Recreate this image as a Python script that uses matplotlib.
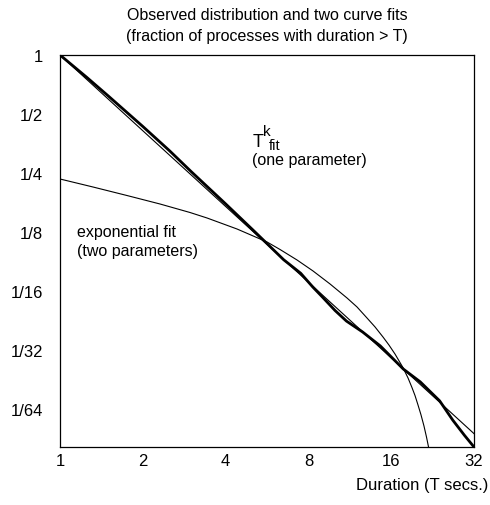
import matplotlib
matplotlib.use('Agg')
import matplotlib.pyplot as plt
from matplotlib.ticker import FixedLocator, FixedFormatter, NullLocator

plt.rcParams['font.family'] = ['Liberation Sans', 'DejaVu Sans']

# observed distribution (fraction of processes with duration > T)
obs_T = [1.0, 1.25, 1.5, 2.0, 2.5, 3.0, 4.0, 5.0, 5.7, 6.5, 7.5, 8.3, 9.0,
         10.0, 11.0, 12.6, 14.6, 17.7, 20.4, 24.0, 26.8, 29.5, 32.0]
obs_F = [1.0, 0.770, 0.617, 0.432, 0.325, 0.254, 0.174, 0.129, 0.108, 0.0903,
         0.0770, 0.0655, 0.0582, 0.0497, 0.0439, 0.0386, 0.0328, 0.0250,
         0.0215, 0.0172, 0.0137, 0.0115, 0.0100]

# T^k fit (one parameter): straight line on log-log axes
tk_T = [1.0, 32.0]
tk_F = [1.0, 0.0117]

# exponential fit (two parameters)
exp_T = [1.0, 1.318, 1.752, 2.310, 2.969, 3.423, 4.401, 5.657, 6.307, 7.272,
         8.314, 9.586, 11.05, 12.02, 13.07, 13.97, 14.94, 15.71, 16.52,
         17.66, 18.42, 19.04, 19.53, 20.02, 20.53, 21.05, 21.50, 21.87, 22.14]
exp_F = [0.2330, 0.2121, 0.1919, 0.1737, 0.1572, 0.1474, 0.1295, 0.1112,
         0.1018, 0.0900, 0.0791, 0.0679, 0.0576, 0.0518, 0.0455, 0.0410,
         0.0364, 0.0331, 0.0298, 0.0254, 0.0225, 0.0201, 0.0183, 0.0164,
         0.0146, 0.0128, 0.01124, 0.0100, 0.00921]

x_ticks = [1, 2, 4, 8, 16, 32]
x_labels = ['1', '2', '4', '8', '16', '32']
y_ticks = [1, 1 / 2, 1 / 4, 1 / 8, 1 / 16, 1 / 32, 1 / 64]
y_labels = ['1', '1/2', '1/4', '1/8', '1/16', '1/32', '1/64']

W, H = 490, 506


def fpos(x, y):
    return x / W, 1 - y / H


fig = plt.figure(figsize=(W / 100, H / 100), dpi=100)
ax = fig.add_axes([60 / W, 1 - 448 / H, 414 / W, 392 / H])

ax.plot(obs_T, obs_F, color='black', lw=2.0, solid_joinstyle='round')
ax.plot(tk_T, tk_F, color='black', lw=0.8)
ax.plot(exp_T, exp_F, color='black', lw=0.8, solid_joinstyle='round')

ax.set_xscale('log')
ax.set_yscale('log')
ax.set_xlim(1, 32)
ax.set_ylim(0.01, 1)

ax.xaxis.set_major_locator(FixedLocator(x_ticks))
ax.xaxis.set_major_formatter(FixedFormatter(x_labels))
ax.xaxis.set_minor_locator(NullLocator())
ax.yaxis.set_major_locator(FixedLocator(y_ticks))
ax.yaxis.set_major_formatter(FixedFormatter(y_labels))
ax.yaxis.set_minor_locator(NullLocator())
ax.tick_params(axis='x', length=0, pad=4, labelsize=12)
ax.tick_params(axis='y', length=0, pad=12, labelsize=12)
for sp in ax.spines.values():
    sp.set_linewidth(0.9)

fig.text(*fpos(267, 15), 'Observed distribution and two curve fits',
         ha='center', va='center', fontsize=11.5)
fig.text(*fpos(267, 36), '(fraction of processes with duration > T)',
         ha='center', va='center', fontsize=11.5)

fig.text(*fpos(253, 147), 'T', ha='left', va='baseline', fontsize=13)
fig.text(*fpos(263, 136), 'k', ha='left', va='baseline', fontsize=11)
fig.text(*fpos(269, 150), 'fit', ha='left', va='baseline', fontsize=10.5)
fig.text(*fpos(252, 165), '(one parameter)', ha='left', va='baseline',
         fontsize=11.5)

fig.text(*fpos(77, 237), 'exponential fit', ha='left', va='baseline',
         fontsize=11.5)
fig.text(*fpos(77, 256), '(two parameters)', ha='left', va='baseline',
         fontsize=11.5)

fig.text(*fpos(488, 490), 'Duration (T secs.)', ha='right', va='baseline',
         fontsize=12)

fig.savefig('out.png', dpi=100)
plt.close(fig)
